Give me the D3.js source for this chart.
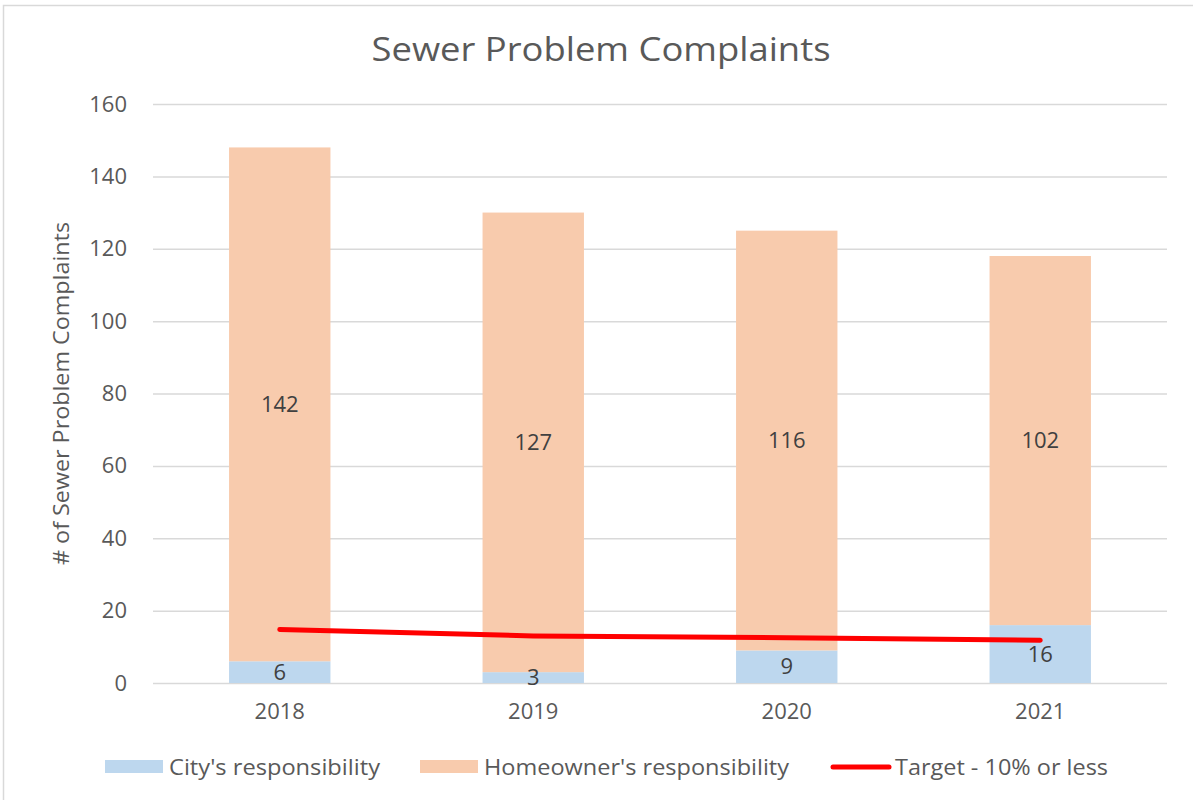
<!DOCTYPE html>
<html>
<head>
<meta charset="utf-8">
<script src="https://cdn.jsdelivr.net/npm/d3@7"></script>
<style>
  html, body { margin: 0; padding: 0; background: #ffffff; }
  svg { display: block; font-family: "Open Sans", Lato, sans-serif; }
</style>
</head>
<body>
<svg id="chart" width="1193" height="800"></svg>
<script>
// ---- Data ----
const years = ["2018", "2019", "2020", "2021"];
const cityValues = [6, 3, 9, 16];
const homeownerValues = [142, 127, 116, 102];
const targetValues = [14.8, 13.0, 12.5, 11.8];
const yTicks = [0, 20, 40, 60, 80, 100, 120, 140, 160];
const seriesNames = ["City's responsibility", "Homeowner's responsibility", "Target - 10% or less"];

const title = "Sewer Problem Complaints";
const yTitle = "# of Sewer Problem Complaints";

const colors = { city: "#BDD7EE", home: "#F8CBAD", target: "#FF0000", text: "#595959", label: "#404040", grid: "#D9D9D9" };

const svg = d3.select("#chart");
const W = 1193, H = 800;
const plot = { left: 153, right: 1167, top: 104, bottom: 683 };

// border
svg.append("rect").attr("x", 3.5).attr("y", 5.5).attr("width", W + 10).attr("height", H + 10)
  .attr("fill", "#fff").attr("stroke", "#D9D9D9").attr("stroke-width", 1.5);

const x = d3.scaleBand().domain(years).range([plot.left, plot.right]).paddingInner(0.6).paddingOuter(0.3);
const y = d3.scaleLinear().domain([0, 160]).range([plot.bottom, plot.top]);

// gridlines via axis
const yAxis = d3.axisLeft(y).tickValues(yTicks).tickSize(-(plot.right - plot.left)).tickPadding(26);
const gy = svg.append("g").attr("transform", `translate(${plot.left},0)`).call(yAxis);
gy.select(".domain").remove();
gy.selectAll(".tick line").attr("stroke", colors.grid).attr("stroke-width", 1.5);
gy.selectAll(".tick text").attr("fill", colors.text).style("font-size", "22px").style("font-family", "'Open Sans', sans-serif");

// x axis
const xAxis = d3.axisBottom(x).tickSize(0).tickPadding(20);
const gx = svg.append("g").attr("transform", `translate(0,${plot.bottom})`).call(xAxis);
gx.select(".domain").remove();
gx.selectAll(".tick text").attr("fill", colors.text).style("font-size", "22px").style("font-family", "'Open Sans', sans-serif");

// stacked data
const rows = years.map((yr, i) => ({ year: yr, city: cityValues[i], home: homeownerValues[i], target: targetValues[i] }));
const stack = d3.stack().keys(["city", "home"]);
const stacked = stack(rows);
const fillFor = { city: colors.city, home: colors.home };

const layers = svg.append("g").selectAll("g").data(stacked).join("g").attr("fill", d => fillFor[d.key]);
layers.selectAll("rect").data(d => d).join("rect")
  .attr("x", d => x(d.data.year))
  .attr("width", x.bandwidth())
  .attr("y", d => y(d[1]))
  .attr("height", d => y(d[0]) - y(d[1]));

// data labels
stacked.forEach(layer => {
  svg.append("g").selectAll("text").data(layer).join("text")
    .attr("x", d => x(d.data.year) + x.bandwidth() / 2)
    .attr("y", d => (y(d[0]) + y(d[1])) / 2)
    .attr("dy", "0.35em")
    .attr("text-anchor", "middle")
    .attr("fill", colors.label)
    .style("font-size", "22px")
    .text(d => d.data[layer.key]);
});

// target line
const line = d3.line().x(d => x(d.year) + x.bandwidth() / 2).y(d => y(d.target));
svg.append("path").datum(rows).attr("d", line)
  .attr("fill", "none").attr("stroke", colors.target).attr("stroke-width", 5)
  .attr("stroke-linecap", "round").attr("stroke-linejoin", "round");

// title
svg.append("text").attr("x", 601).attr("y", 61).attr("text-anchor", "middle")
  .attr("fill", colors.text).style("font-size", "33px")
  .attr("textLength", 459).attr("lengthAdjust", "spacingAndGlyphs").text(title);

// y title
svg.append("text").attr("transform", `translate(69,${(plot.top + plot.bottom) / 2}) rotate(-90)`)
  .attr("text-anchor", "middle").attr("fill", colors.text).style("font-size", "22px")
  .attr("textLength", 343).attr("lengthAdjust", "spacingAndGlyphs").text(yTitle);

// legend
const legendY = 767;
const lg = svg.append("g");
const legendItems = [
  { name: seriesNames[0], type: "rect", color: colors.city, x: 105, w: 211 },
  { name: seriesNames[1], type: "rect", color: colors.home, x: 420, w: 305 },
  { name: seriesNames[2], type: "line", color: colors.target, x: 831, w: 213 }
];
legendItems.forEach(it => {
  if (it.type === "rect") {
    lg.append("rect").attr("x", it.x).attr("y", legendY - 7).attr("width", 58).attr("height", 13).attr("fill", it.color);
  } else {
    lg.append("line").attr("x1", it.x + 2).attr("x2", it.x + 58).attr("y1", legendY).attr("y2", legendY)
      .attr("stroke", it.color).attr("stroke-width", 5).attr("stroke-linecap", "round");
  }
  lg.append("text").attr("x", it.x + 64).attr("y", legendY).attr("dy", "0.35em")
    .attr("fill", colors.text).style("font-size", "22px")
    .attr("textLength", it.w).attr("lengthAdjust", "spacingAndGlyphs").text(it.name);
});
</script>
</body>
</html>
